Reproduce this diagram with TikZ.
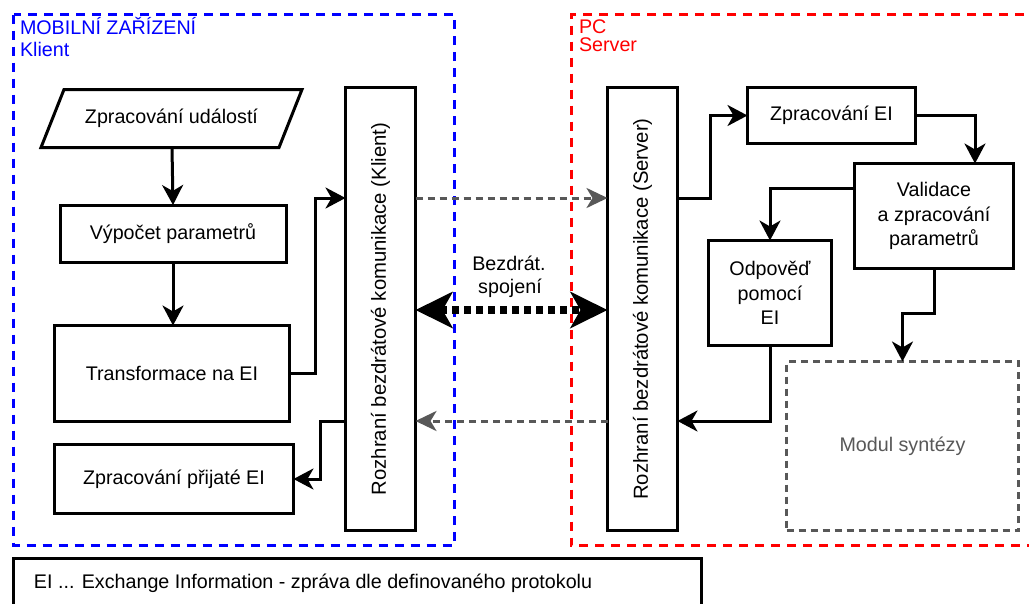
\documentclass[tikz,border=0pt]{standalone}
\usepackage{fontspec}
\setmainfont{Liberation Sans}
\usetikzlibrary{arrows.meta,calc}
\definecolor{dgray}{RGB}{88,88,88}
\begin{document}
\begin{tikzpicture}[x=1pt,y=-1pt,
  font=\fontsize{19.7}{24.5}\selectfont,
  every node/.style={inner sep=0pt,outer sep=0pt},
  blk/.style={draw=black,line width=3pt,fill=white,align=center},
  vtext/.style={font=\fontsize{20.3}{24}\selectfont},
  arr/.style={draw=black,line width=3pt,-{Stealth[length=20pt,width=21pt,inset=6pt]}},
  garr/.style={draw=dgray,line width=3pt,dash pattern=on 7pt off 5pt,-{Stealth[length=21pt,width=20pt,inset=6pt]}},
  bigarr/.style={draw=black,line width=8pt,dash pattern=on 7pt off 5pt,
    {Stealth[length=37pt,width=36pt,inset=10pt]}-{Stealth[length=37pt,width=36pt,inset=10pt]}},
  zone/.style={line width=3pt,dash pattern=on 9pt off 7pt},
]
\useasboundingbox (0,0) rectangle (1029,603);
\fill[white] (0,0) rectangle (1029,603);

% device zones
\draw[zone,draw=blue] (13.5,14.5) rectangle (454,545.5);
\draw[zone,draw=red] (1040,14.5) -- (571,14.5) -- (571,545.5) -- (1040,545.5);
\node[anchor=base west,text=blue] (mobil) at (20,34) {MOBILNÍ ZAŘÍZENÍ};
\node[anchor=base west,text=blue] (klientlbl) at (20,56) {Klient};
\node[anchor=base west,text=red] (pc) at (579,33) {PC};
\node[anchor=base west,text=red] (serverlbl) at (579,51) {Server};

% client side
\coordinate (pA) at (41,147.5);
\coordinate (pB) at (279,147.5);
\coordinate (pC) at (302,89.5);
\coordinate (pD) at (64,89.5);
\draw[line width=3pt,fill=white,line join=miter] (pA) -- (pB) -- (pC) -- (pD) -- cycle;
\node (udal) at (171.5,118.5) {Zpracování událostí};
\coordinate (udalB) at (172,147.5);

\node[blk,minimum width=226pt,minimum height=57pt] (vypocet) at (173,233.5) {Výpočet parametrů};
\node[blk,minimum width=235pt,minimum height=96pt] (transf) at (172,373.5) {Transformace na EI};
\node[blk,minimum width=239pt,minimum height=69pt] (prijata) at (174,479) {Zpracování přijaté EI};
\node[blk,minimum width=70pt,minimum height=443pt] (klient) at (380.5,309)
  {\rotatebox{90}{\fontsize{20.3}{24}\selectfont Rozhraní bezdrátové komunikace (Klient)}};

% server side
\node[blk,minimum width=70pt,minimum height=443pt] (server) at (642.5,309)
  {\rotatebox{90}{\fontsize{20.3}{24}\selectfont Rozhraní bezdrátové komunikace (Server)}};
\node[blk,minimum width=168pt,minimum height=56pt] (zprEI) at (831.5,115.5) {Zpracování EI};
\node[blk,minimum width=159pt,minimum height=105pt] (valid) at (934,216)
  {Validace\\a zpracování\\parametrů};
\node[blk,minimum width=123pt,minimum height=105pt] (odp) at (770,293)
  {Odpověď\\pomocí\\EI};
\node[draw=dgray,line width=3pt,dash pattern=on 7pt off 5pt,text=dgray,
  minimum width=232pt,minimum height=169pt] (modul) at (902.5,446) {Modul syntézy};

% legend
\node[draw=black,line width=3pt,anchor=north west,minimum width=688pt,minimum height=70pt]
  (legend) at (13.5,558.5) {};
\node[anchor=west] (legendtxt) at (34,583) {EI ... Exchange Information - zpráva dle definovaného protokolu};

% client flow
\draw[arr] (udalB) -- (vypocet.north);
\draw[arr] (vypocet.south) -- (vypocet.south |- transf.north);
\draw[arr] (transf.east) -- ++(26,0) |- ($(klient.west)+(0,-111)$);
\draw[arr] ($(klient.west)+(0,112)$) -- ++(-25,0) |- (prijata.east);

% wireless link
\draw[garr] ($(klient.east)+(0,-111)$) -- ($(server.west)+(0,-111)$);
\draw[garr] ($(server.west)+(0,112)$) -- ($(klient.east)+(0,112)$);
\draw[bigarr] ($(klient.east)+(0,1)$) -- ($(server.west)+(0,1)$);
\node[align=center,anchor=base] (bezdrat) at (509,270) {Bezdrát.};
\node[align=center,anchor=base] (spojeni) at (510,293) {spojení};

% server flow
\draw[arr] ($(server.east)+(0,-111)$) -- ++(33,0) |- (zprEI.west);
\draw[arr] (zprEI.east) -| ($(valid.north)+(41,0)$);
\draw[arr] ($(valid.west)+(0,-28)$) -| (odp.north);
\draw[arr] (valid.south) -- ++(0,45) -| (modul.north);
\draw[arr] (odp.south) |- ($(server.east)+(0,112)$);
\end{tikzpicture}
\end{document}
